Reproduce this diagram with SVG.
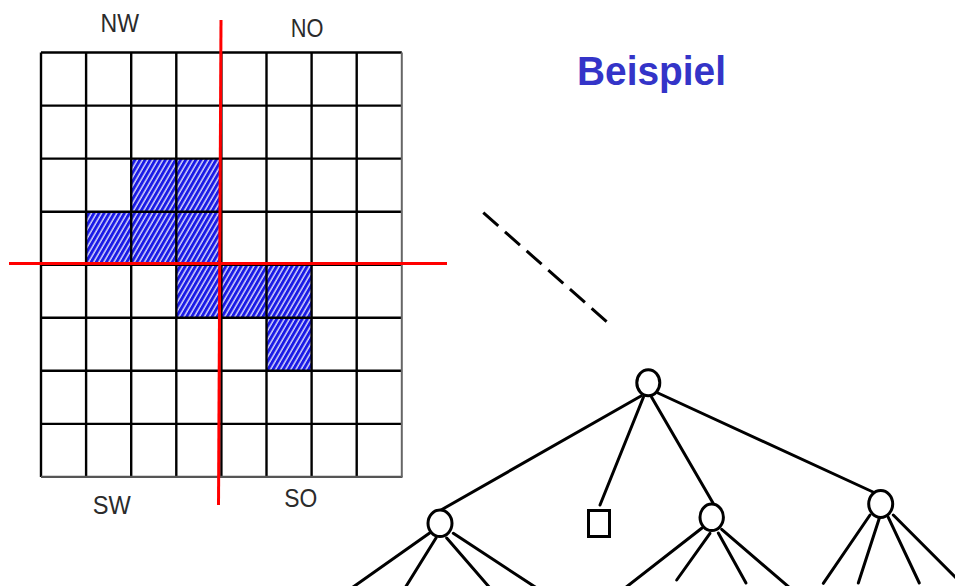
<svg xmlns="http://www.w3.org/2000/svg" width="955" height="586" viewBox="0 0 955 586">
<style>
.lbl{font-family:"Liberation Sans",Arial,sans-serif;font-size:26px;fill:#2b2b2b}
.title{font-family:"Liberation Sans",Arial,sans-serif;font-size:41px;font-weight:bold;fill:#3434c8}
.grid{stroke:#000;stroke-width:2.4;fill:none}
.red{stroke:#ff0000;stroke-width:3;fill:none}
.edge{stroke:#000;stroke-width:3;fill:none;stroke-linecap:round}
.node{stroke:#000;stroke-width:3;fill:#fff}
</style>
<defs>
<pattern id="hatch" width="4.4" height="10" patternUnits="userSpaceOnUse" patternTransform="rotate(30)">
<rect width="4.4" height="10" fill="#1a1ae6"/>
<line x1="1" y1="0" x2="1" y2="10" stroke="#fff" stroke-width="1.2"/>
</pattern>
</defs>
<rect width="955" height="586" fill="#fff"/>
<g id="grid">
<g id="hatched" fill="url(#hatch)">
<rect x="131.2" y="158.6" width="90.2" height="53.1"/>
<rect x="86.1" y="211.7" width="135.3" height="53"/>
<rect x="176.3" y="264.7" width="135.3" height="53.1"/>
<rect x="266.5" y="317.8" width="45.1" height="53"/>
</g>
<g class="grid">
<line x1="41" y1="52.5" x2="41" y2="476.9"/>
<line x1="86.1" y1="52.5" x2="86.1" y2="476.9"/>
<line x1="131.2" y1="52.5" x2="131.2" y2="476.9"/>
<line x1="176.3" y1="52.5" x2="176.3" y2="476.9"/>
<line x1="221.4" y1="52.5" x2="221.4" y2="476.9"/>
<line x1="266.5" y1="52.5" x2="266.5" y2="476.9"/>
<line x1="311.6" y1="52.5" x2="311.6" y2="476.9"/>
<line x1="356.7" y1="52.5" x2="356.7" y2="476.9"/>
<line x1="41" y1="52.5" x2="401.8" y2="52.5"/>
<line x1="41" y1="105.6" x2="401.8" y2="105.6"/>
<line x1="41" y1="158.6" x2="401.8" y2="158.6"/>
<line x1="41" y1="211.7" x2="401.8" y2="211.7"/>
<line x1="41" y1="264.7" x2="401.8" y2="264.7"/>
<line x1="41" y1="317.8" x2="401.8" y2="317.8"/>
<line x1="41" y1="370.8" x2="401.8" y2="370.8"/>
<line x1="41" y1="423.9" x2="401.8" y2="423.9"/>
</g>
<line x1="41" y1="476.9" x2="402.5" y2="476.9" stroke="#555" stroke-width="2.2"/>
<line x1="401.8" y1="52.5" x2="401.8" y2="476.9" stroke="#666" stroke-width="2"/>
<g id="split">
<line class="red" x1="9" y1="263.5" x2="447" y2="263.5"/>
<line class="red" x1="221" y1="20" x2="218.5" y2="505"/>
</g>
<text class="lbl" x="100.5" y="31.7" textLength="38.5" lengthAdjust="spacingAndGlyphs">NW</text>
<text class="lbl" x="290.7" y="36.7" textLength="32.7" lengthAdjust="spacingAndGlyphs">NO</text>
<text class="lbl" x="92.7" y="514" textLength="38" lengthAdjust="spacingAndGlyphs">SW</text>
<text class="lbl" x="284.3" y="506.7" textLength="33" lengthAdjust="spacingAndGlyphs">SO</text>
</g>
<text id="title" class="title" x="577" y="85" textLength="149" lengthAdjust="spacingAndGlyphs">Beispiel</text>
<g id="connectors">
<line x1="483.3" y1="212.7" x2="606.7" y2="321.7" stroke="#000" stroke-width="3" stroke-dasharray="20 8.9"/>
<g class="edge">
<line x1="641" y1="396" x2="441" y2="510"/>
<line x1="643.5" y1="397" x2="600" y2="505"/>
<line x1="651.5" y1="397" x2="713" y2="503"/>
<line x1="658" y1="393" x2="873" y2="492"/>
<line x1="430" y1="532.7" x2="351.7" y2="588"/>
<line x1="436" y1="538" x2="405" y2="588"/>
<line x1="446.7" y1="538" x2="490" y2="588"/>
<line x1="453.3" y1="533.3" x2="536.7" y2="588"/>
<line x1="702" y1="528" x2="625" y2="588"/>
<line x1="710" y1="533.3" x2="676.7" y2="580"/>
<line x1="718.3" y1="533" x2="746" y2="583"/>
<line x1="721.7" y1="529.3" x2="790" y2="588"/>
<line x1="870" y1="515" x2="823.3" y2="583.3"/>
<line x1="879.3" y1="518.3" x2="858.3" y2="583"/>
<line x1="888.3" y1="517.3" x2="919.3" y2="583"/>
<line x1="893.3" y1="515" x2="962" y2="584"/>
</g>
</g>
<g id="root"><ellipse class="node" cx="648.3" cy="382.7" rx="11.5" ry="13"/></g>
<g id="child-left"><ellipse class="node" cx="440" cy="523.3" rx="12" ry="13.3"/></g>
<g id="child-leaf"><rect class="node" x="588.5" y="510.5" width="21" height="26"/></g>
<g id="child-mid"><ellipse class="node" cx="711.7" cy="517.3" rx="11.7" ry="13.2"/></g>
<g id="child-right"><ellipse class="node" cx="880.7" cy="504" rx="12" ry="13.4"/></g>
</svg>
